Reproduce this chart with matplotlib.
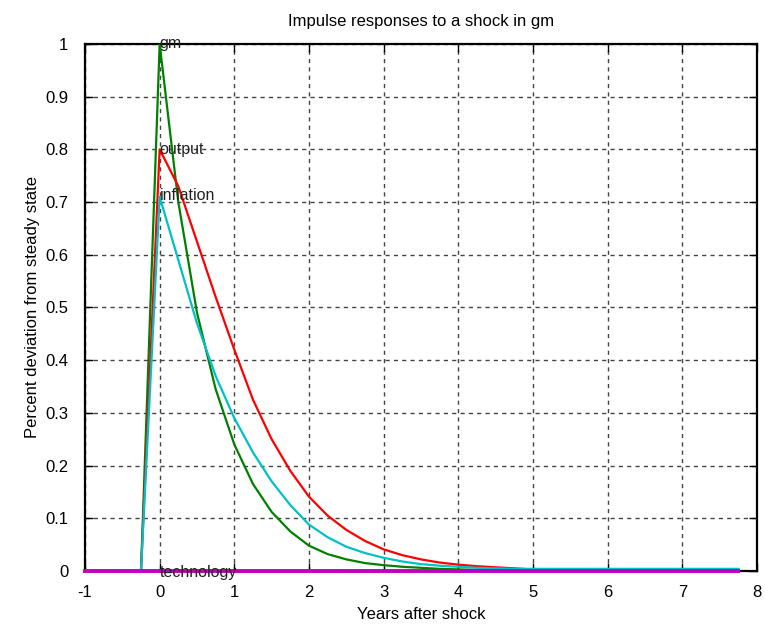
import numpy as np
import matplotlib.pyplot as plt

plt.rcParams['font.family'] = ['Liberation Sans', 'DejaVu Sans']
plt.rcParams['axes.unicode_minus'] = False

# quarterly responses, -1 to 7.75 years
years = np.arange(36) * 0.25 - 1

gm = [0, 0, 0, 0, 1.0, 0.70, 0.49, 0.345, 0.24, 0.165, 0.112, 0.075, 0.048, 0.032,
      0.022, 0.015, 0.011, 0.008, 0.006, 0.004, 0.003, 0.002, 0.002, 0.002, 0.002,
      0.002, 0.002, 0.002, 0.002, 0.002, 0.002, 0.002, 0.002, 0.002, 0.002, 0.002]
output = [0, 0, 0, 0, 0.80, 0.73, 0.625, 0.52, 0.42, 0.325, 0.25, 0.19, 0.141, 0.105,
          0.078, 0.057, 0.041, 0.03, 0.022, 0.016, 0.012, 0.009, 0.007, 0.005, 0.003,
          0.003, 0.003, 0.003, 0.003, 0.003, 0.003, 0.003, 0.003, 0.003, 0.003, 0.003]
inflation = [0, 0, 0, 0, 0.71, 0.59, 0.47, 0.37, 0.29, 0.225, 0.17, 0.125, 0.088,
             0.064, 0.046, 0.034, 0.025, 0.018, 0.013, 0.01, 0.008, 0.006, 0.005, 0.004,
             0.004, 0.004, 0.004, 0.004, 0.004, 0.004, 0.004, 0.004, 0.004, 0.004, 0.004, 0.004]
technology = [0] * 36

names = ['gm', 'output', 'inflation', 'technology']
label_y = [1.0, 0.80, 0.713, -0.003]

fig = plt.figure(figsize=(7.65, 6.26), dpi=100)
ax = fig.add_axes([0.1111, 0.0879, 0.8784, 0.8419])

ax.plot(years, gm, color='#008000', lw=1.6, zorder=3)
ax.plot(years, output, color='#ff0000', lw=1.6, zorder=3)
ax.plot(years, inflation, color='#00c0c8', lw=1.6, zorder=3)
ax.plot(years, technology, color='#c000c0', lw=2.8, zorder=3, clip_on=False)

for n, yv in zip(names, label_y):
    ax.text(0, yv, n, ha='left', va='center', fontsize=11.5, color='#222222', zorder=4)

ax.set_xlim(-1, 8)
ax.set_ylim(0, 1)
ax.set_xticks(range(-1, 9))
ax.set_yticks(np.arange(0, 1.01, 0.1))
ax.set_yticklabels(['0', '0.1', '0.2', '0.3', '0.4', '0.5', '0.6', '0.7', '0.8', '0.9', '1'])
ax.grid(True, color='#444444', linestyle=(0, (3, 3)), lw=1)
ax.tick_params(direction='in', top=True, right=True, labelsize=12, length=6, width=1)
ax.tick_params(axis='x', pad=10)
ax.tick_params(axis='y', pad=12)
for s in ax.spines.values():
    s.set_linewidth(1.6)

ax.set_title('Impulse responses to a shock in gm', fontsize=12, pad=13)
ax.set_xlabel('Years after shock', fontsize=12, labelpad=5)
ax.set_ylabel('Percent deviation from steady state', fontsize=12, labelpad=4)

fig.savefig('out.png')
